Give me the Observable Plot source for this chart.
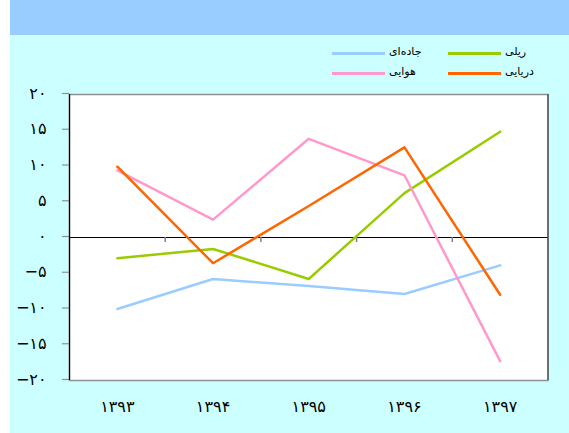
<!DOCTYPE html>
<html>
<head>
<meta charset="utf-8">
<script src="https://cdn.jsdelivr.net/npm/d3@7"></script>
<script src="https://cdn.jsdelivr.net/npm/@observablehq/plot@0.6"></script>
<style>
  html, body { margin: 0; padding: 0; background: #fff; }
  #wrap { position: relative; width: 569px; height: 433px; overflow: hidden; }
  #band { position: absolute; left: 10px; top: 0; width: 559px; height: 35px; background: #99ccff; }
  #bg { position: absolute; left: 10px; top: 35px; width: 559px; height: 398px; background: #ccffff; }
  #chart { position: absolute; left: 0; top: 0; }
  .leg { position: absolute; font-family: "DejaVu Sans", Tahoma, sans-serif; font-size: 11px; color: #000; line-height: 14px; }
  .sw { position: absolute; height: 3px; width: 53px; }
</style>
</head>
<body>
<div id="wrap">
  <div id="band"></div>
  <div id="bg"></div>
  <div id="chart"></div>
  <div id="legend"></div>
</div>
<script>
const years = [1393, 1394, 1395, 1396, 1397];
const seriesNames = ["جاده‌ای", "ریلی", "هوایی", "دریایی"];
const seriesColors = ["#99ccff", "#99cc00", "#ff99cc", "#ff6600"];
const road = [-10.0, -5.8, -6.8, -7.9, -3.9];
const rail = [-2.9, -1.6, -5.8, 6.2, 14.8];
const air = [9.4, 2.5, 13.8, 8.7, -17.3];
const sea = [9.9, -3.6, 4.4, 12.6, -8.0];
const yTicks = [-20, -15, -10, -5, 0, 5, 10, 15, 20];

const fa = v => String(v).replace(/-/g, "\u2212").replace(/\d/g, c => "۰۱۲۳۴۵۶۷۸۹"[c]);

const allSeries = [road, rail, air, sea];
const data = [];
allSeries.forEach((vals, si) => vals.forEach((v, i) => data.push({series: seriesNames[si], year: years[i], value: v})));
const boundaries = years.slice(0, -1).map(y => y + 0.5);

const chart = Plot.plot({
  width: 569,
  height: 433,
  marginLeft: 69,
  marginRight: 21.5,
  marginTop: 94,
  marginBottom: 53,
  style: { background: "transparent", fontFamily: "DejaVu Sans, Tahoma, sans-serif", fontSize: "16px", color: "#000" },
  x: { domain: [1392.5, 1397.5], label: null },
  y: { domain: [-20, 20], label: null },
  color: { domain: seriesNames, range: seriesColors },
  marks: [
    Plot.frame({ fill: "white", stroke: "#909090", strokeWidth: 1.5 }),
    Plot.ruleX([1397.5], { stroke: "#333", strokeWidth: 1 }),
    Plot.ruleY([0], { stroke: "#000", strokeWidth: 1.2 }),
    Plot.ruleX(boundaries, { y1: 0, y2: -0.7, stroke: "#808080", strokeWidth: 1.5 }),
    Plot.axisY({ ticks: yTicks, tickSize: 7, tickPadding: 16, tickFormat: fa, stroke: "#909090", strokeWidth: 1.2, fill: "#000", fontSize: 16, label: null, dy: -1 }),
    Plot.axisX({ ticks: years, tickSize: 0, tickPadding: 20, tickFormat: fa, fill: "#000", fontSize: 16, label: null }),
    Plot.ruleX([1392.5], { stroke: "#000", strokeWidth: 1.2 }),
    Plot.line(data, { x: "year", y: "value", z: "series", stroke: "series", strokeWidth: 2.5 })
  ]
});
document.getElementById("chart").appendChild(chart);

// legend
const legendLayout = [
  { i: 0, left: 332, top: 53 },
  { i: 1, left: 448, top: 53 },
  { i: 2, left: 332, top: 73 },
  { i: 3, left: 448, top: 73 }
];
const leg = document.getElementById("legend");
legendLayout.forEach(({ i, left, top }) => {
  const sw = document.createElement("div");
  sw.className = "sw";
  sw.style.left = left + "px";
  sw.style.top = (top - 1.5) + "px";
  sw.style.background = seriesColors[i];
  leg.appendChild(sw);
  const t = document.createElement("div");
  t.className = "leg";
  t.style.left = (left + 57) + "px";
  t.style.top = (top - 8) + "px";
  t.textContent = seriesNames[i];
  leg.appendChild(t);
});
</script>
</body>
</html>
